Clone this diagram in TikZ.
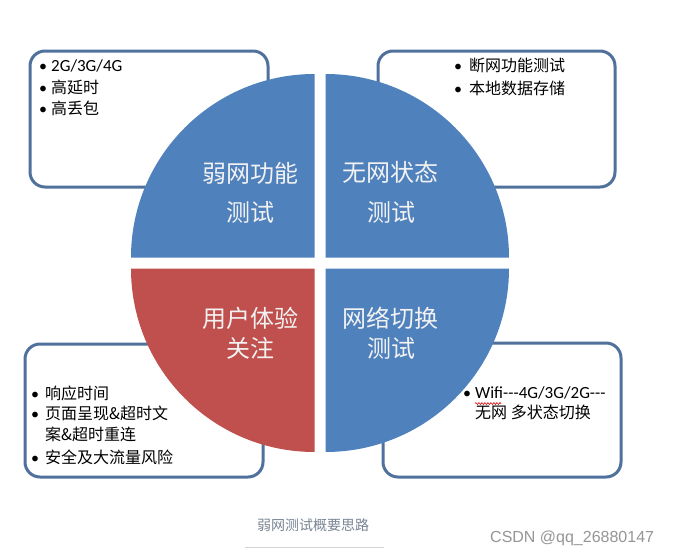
\documentclass[tikz,border=0pt]{standalone}
\usepackage{fontspec}
\setmainfont{Carlito}
\newfontfamily\cjk{Noto Sans CJK SC}
\newfontfamily\arialf{Liberation Sans}
\usetikzlibrary{decorations.pathmorphing}
\definecolor{pieblue}{RGB}{79,129,189}
\definecolor{piered}{RGB}{192,80,77}
\definecolor{boxline}{RGB}{79,113,156}
\definecolor{labelwhite}{RGB}{242,242,242}
\definecolor{captioncol}{RGB}{120,132,148}
\definecolor{markgray}{RGB}{150,150,150}
\definecolor{rulegray}{RGB}{212,212,212}
\newcommand{\itembul}[1]{\makebox[#1][c]{\rmfamily\fontsize{16}{20}\selectfont\textbullet}}
\begin{document}
\begin{tikzpicture}[x=1pt,y=-1pt,
  infobox/.style={draw=boxline, line width=3pt, rounded corners=15pt, fill=white, anchor=north west, inner sep=0pt},
  itemtext/.style={anchor=base west, inner sep=0pt, font=\fontsize{16}{20}\selectfont, text=black},
  latintext/.style={itemtext, font=\fontsize{17}{20}\selectfont},
  pielabel/.style={inner sep=0pt, font=\cjk\fontsize{24}{28}\selectfont, text=labelwhite}]
\useasboundingbox (0,0) rectangle (673,557);
\fill[white] (0,0) rectangle (673,557);

% boxes
\node[infobox, minimum width=238, minimum height=136] (boxtl) at (28.5,49.5) {};
\node[infobox, minimum width=237, minimum height=136] (boxtr) at (376.5,49.5) {};
\node[infobox, minimum width=238, minimum height=133] (boxbl) at (23.5,342.5) {};
\node[infobox, minimum width=238, minimum height=134] (boxbr) at (381.5,341.5) {};

% pie quadrants
\fill[pieblue] (314.5,257.5) -- ++(-183.5,0) arc[start angle=180,end angle=270,radius=183.5] -- cycle;
\fill[pieblue] (325.5,257.5) -- ++(0,-183.5) arc[start angle=270,end angle=360,radius=183.5] -- cycle;
\fill[pieblue] (325.5,268.5) -- ++(183.5,0) arc[start angle=0,end angle=90,radius=183.5] -- cycle;
\fill[piered] (314.5,268.5) -- ++(0,183.5) arc[start angle=90,end angle=180,radius=183.5] -- cycle;

% pie labels
\node[pielabel] (q1a) at (250,173) {弱网功能};
\node[pielabel] (q1b) at (250,212) {测试};
\node[pielabel] (q2a) at (390,172) {无网状态};
\node[pielabel] (q2b) at (391,212) {测试};
\node[pielabel] (q3a) at (250,318) {用户体验};
\node[pielabel] (q3b) at (250,348) {关注};
\node[pielabel] (q4a) at (390,318) {网络切换};
\node[pielabel] (q4b) at (391,348) {测试};

% top-left items
\node[latintext] (tl1) at (35,71) {\itembul{16pt}2G/3G/4G};
\node[itemtext] (tl2) at (35,93) {\itembul{16pt}\cjk 高延时};
\node[itemtext] (tl3) at (35,114) {\itembul{16pt}\cjk 高丢包};

% top-right items
\node[itemtext] (tr1) at (447,71) {\itembul{22pt}\cjk 断网功能测试};
\node[itemtext] (tr2) at (447,94) {\itembul{22pt}\cjk 本地数据存储};

% bottom-left items
\node[itemtext] (bl1) at (25,399) {\itembul{20pt}\cjk 响应时间};
\node[itemtext] (bl2) at (25,419) {\itembul{20pt}\cjk 页面呈现\&超时文};
\node[itemtext] (bl2b) at (45,440) {\cjk 案\&超时重连};
\node[itemtext] (bl3) at (25,463) {\itembul{20pt}\cjk 安全及大流量风险};

% bottom-right items
\node[latintext] (br1) at (459,398) {\itembul{16pt}Wifi-{}-{}-4G/3G/2G-{}-{}-};
\node[itemtext] (br1b) at (475,418) {\cjk 无网 多状态切换};
\coordinate (sqa) at (475,403.5);
\coordinate (sqb) at (501,403.5);
\draw[red!85!black, line width=0.6pt, decorate, decoration={snake, amplitude=0.9pt, segment length=3pt}] (sqa) -- (sqb);

% caption and watermark
\node[inner sep=0pt, font=\cjk\fontsize{14}{16}\selectfont, text=captioncol] (caption) at (313,525) {弱网测试概要思路};
\coordinate (ruleL) at (245,547);
\coordinate (ruleR) at (384,547);
\draw[rulegray, line width=1pt] (ruleL) -- (ruleR);
\node[anchor=west, inner sep=0pt, font=\arialf\fontsize{16}{18}\selectfont, text=markgray] (mark) at (490,538) {CSDN @qq\_26880147};
\end{tikzpicture}
\end{document}
